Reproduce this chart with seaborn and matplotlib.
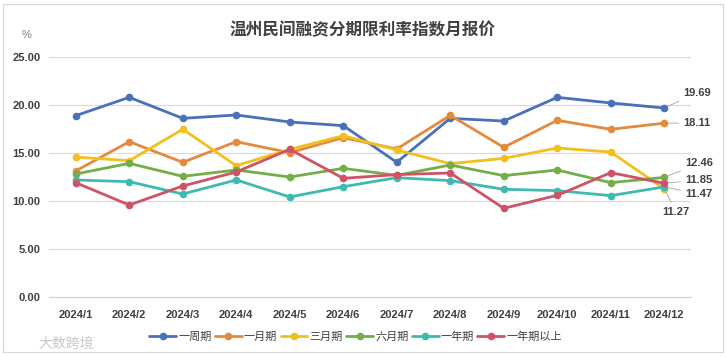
import matplotlib
matplotlib.use("Agg")
import matplotlib.pyplot as plt
import seaborn as sns
import pandas as pd
from matplotlib.patches import Rectangle

months = ["2024/1", "2024/2", "2024/3", "2024/4", "2024/5", "2024/6",
          "2024/7", "2024/8", "2024/9", "2024/10", "2024/11", "2024/12"]
series_names = ["一周期", "一月期", "三月期", "六月期", "一年期", "一年期以上"]
week = [18.89, 20.80, 18.61, 18.96, 18.23, 17.85, 14.03, 18.61, 18.33, 20.80, 20.21, 19.69]
month1 = [13.13, 16.18, 14.03, 16.18, 15.03, 16.60, 15.42, 18.92, 15.59, 18.40, 17.47, 18.11]
month3 = [14.58, 14.20, 17.47, 13.68, 15.38, 16.80, 15.31, 13.89, 14.44, 15.52, 15.10, 11.27]
month6 = [12.81, 13.92, 12.57, 13.23, 12.50, 13.40, 12.67, 13.75, 12.64, 13.23, 11.91, 12.46]
year1 = [12.19, 12.01, 10.73, 12.19, 10.42, 11.49, 12.43, 12.12, 11.22, 11.08, 10.56, 11.47]
year1plus = [11.91, 9.58, 11.56, 13.02, 15.38, 12.36, 12.75, 12.92, 9.24, 10.59, 12.95, 11.85]
yticks = [0, 5, 10, 15, 20, 25]

colors = ["#4A70B8", "#E38A3E", "#F2C01E", "#73AE4B", "#3FBAB1", "#CF5366"]

all_values = [week, month1, month3, month6, year1, year1plus]
df = pd.DataFrame({
    "月份": months * len(series_names),
    "利率": [v for vals in all_values for v in vals],
    "期限": [n for n in series_names for _ in months],
})

sns.set_theme(style="white")
plt.rcParams["font.family"] = ["Liberation Sans", "Noto Sans CJK SC", "DejaVu Sans"]

fig = plt.figure(figsize=(7.26, 3.57), dpi=100)
fig.patch.set_facecolor("white")
ax = fig.add_axes([49 / 726, 1 - 297 / 357, (691 - 49) / 726, (297 - 57) / 357])

sns.lineplot(data=df, x="月份", y="利率", hue="期限", hue_order=series_names,
             palette=colors, marker="o", markersize=5.5, markeredgewidth=0,
             linewidth=2.0, sort=False, ax=ax, legend=True)

ax.set_xlim(-0.5, 11.5)
ax.set_ylim(0, 25)
ax.set_yticks(yticks)
ax.set_yticklabels([f"{t:.2f}" for t in yticks])
ax.yaxis.grid(True, color="#D9D9D9", linewidth=0.8)
ax.xaxis.grid(False)
for s in ["left", "right", "top"]:
    ax.spines[s].set_visible(False)
ax.spines["bottom"].set_color("#D0D0D0")
ax.spines["bottom"].set_linewidth(0.8)
ax.set_xlabel("")
ax.set_ylabel("")
ax.set_xticks(range(len(months)))
ax.set_xticklabels(months)
ax.set_xticks([i - 0.5 for i in range(len(months) + 1)], minor=True)
ax.tick_params(axis="x", which="major", length=0, pad=9, labelsize=8, labelcolor="#404040")
ax.tick_params(axis="x", which="minor", length=3, color="#D0D0D0", width=0.8)
ax.tick_params(axis="y", length=0, pad=6, labelsize=8, labelcolor="#404040")
for lbl in ax.get_xticklabels() + ax.get_yticklabels():
    lbl.set_fontweight("bold")

# end labels
offsets = {
    "一周期": ((19, 15), "left"),
    "一月期": ((19, 0), "left"),
    "六月期": ((21, 14), "left"),
    "一年期以上": ((21, 3), "left"),
    "一年期": ((21, -7), "left"),
    "三月期": ((12, -23), "center"),
}
for name, vals in zip(series_names, all_values):
    (dx, dy), ha = offsets[name]
    ax.annotate(f"{vals[-1]:.2f}", xy=(11, vals[-1]), xytext=(dx, dy),
                textcoords="offset pixels", ha=ha, va="center",
                fontsize=8, fontweight="bold", color="#404040",
                arrowprops=dict(arrowstyle="-", color="#A6A6A6", lw=0.6,
                                shrinkA=1, shrinkB=3),
                annotation_clip=False)

handles, labels = ax.get_legend_handles_labels()
ax.get_legend().remove()
fig.legend(handles, labels, loc="center", bbox_to_anchor=(0.49, 1 - 337 / 357),
           ncol=6, frameon=False, fontsize=8, handlelength=2.4,
           handletextpad=0.2, columnspacing=0.3, labelcolor="#404040")

fig.text(0.5, 1 - 30 / 357, "温州民间融资分期限利率指数月报价", ha="center", va="center",
         fontsize=12, fontweight="bold", color="#404040",
         family=["Noto Sans CJK SC", "DejaVu Sans"])
fig.text(22 / 726, 1 - 35 / 357, "%", ha="left", va="center", fontsize=8, color="#808080")
fig.text(38 / 726, 1 - 344 / 357, "大数跨境", ha="left", va="center", fontsize=10,
         color="#C8C8C8", family=["Noto Sans CJK SC", "DejaVu Sans"])

fig.patches.append(Rectangle((3 / 726, 1 - 352 / 357), 720 / 726, 348 / 357,
                             transform=fig.transFigure, fill=False,
                             edgecolor="#D6D6D6", linewidth=0.8))

fig.savefig("out.png", dpi=100, facecolor="white")
